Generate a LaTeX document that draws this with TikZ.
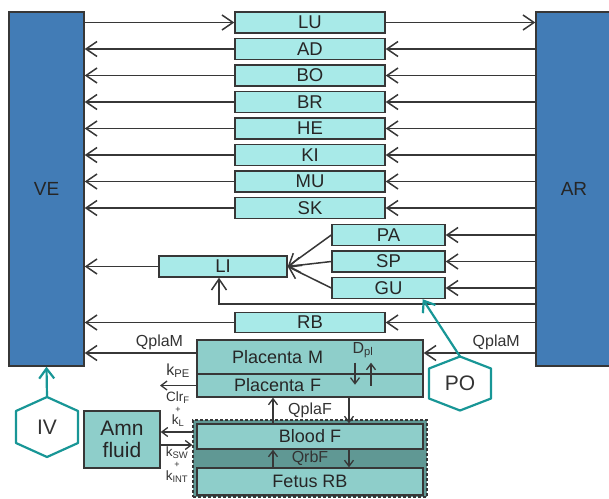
\documentclass[tikz,border=0pt]{standalone}
\usepackage{fontspec}
\setmainfont{Liberation Sans}
\definecolor{pkblue}{RGB}{66,124,182}
\definecolor{pkcyan}{RGB}{168,234,232}
\definecolor{pkteal}{RGB}{142,206,202}
\definecolor{pkdark}{RGB}{96,152,148}
\definecolor{pkhex}{RGB}{24,150,150}
\definecolor{pkline}{RGB}{55,55,55}
\usetikzlibrary{arrows.meta,positioning}

\begin{document}
\begin{tikzpicture}[x=1pt,y=-1pt,
    comp/.style={draw=pkline,line width=1.4pt,inner sep=0pt,text=black!85},
    pool/.style={comp,fill=pkblue,minimum width=75pt,minimum height=354pt,
        font=\fontsize{19}{21}\selectfont},
    organ/.style={comp,fill=pkcyan,minimum width=150pt,minimum height=21pt,
        font=\fontsize{18.5}{20}\selectfont},
    tissue/.style={comp,fill=pkteal,minimum width=226pt,
        font=\fontsize{18}{20}\selectfont},
    flow/.style={draw=pkline,line width=1.5pt,
        -{Straight Barb[length=11pt,width=15pt,line width=1.5pt]}},
    tiny/.style={draw=pkline,line width=1.3pt,
        -{Straight Barb[length=6pt,width=9pt,line width=1.3pt]}},
    dose/.style={draw=pkhex,line width=2.2pt,
        -{Straight Barb[length=10pt,width=15pt,line width=2.2pt]}},
    hexa/.style={draw=pkhex,line width=2.2pt,line join=round},
    lbl/.style={inner sep=1pt,text=black!80,font=\fontsize{16}{18}\selectfont},
    klbl/.style={inner sep=0pt,text=black!80,font=\fontsize{13.5}{15}\selectfont}]

    \useasboundingbox (0,0) rectangle (609,498);

    % Compartimentos venoso e arterial
    \node[pool] (ve) at (46.5,189) {VE};
    \node[pool,minimum width=76pt] (ar) at (574,189) {AR};

    % Orgaos em paralelo
    \foreach \nm/\lb/\yy in {lu/LU/22.5, ad/AD/49, bo/BO/75.5, br/BR/102,
                             he/HE/128.5, ki/KI/155, mu/MU/181.5, sk/SK/208}
        \node[organ] (\nm) at (310,\yy) {\lb};
    \foreach \nm/\lb/\yy in {pa/PA/235, sp/SP/261.5, gu/GU/288}
        \node[organ,minimum width=113pt] (\nm) at (388.5,\yy) {\lb};
    \node[organ,minimum width=128pt] (li) at (223,266.5) {LI};
    \node[organ,minimum height=20pt] (rb) at (310,322.5) {RB};

    % Placenta e feto
    \node[tissue,minimum height=34pt,text width=156pt,align=left] (plm) at (310,357) {Placenta M};
    \node[tissue,minimum height=23pt,text width=152pt,align=left] (plf) at (310,385.5) {Placenta F};
    \node[draw=pkline,densely dashed,line width=1.4pt,fill=pkdark,
        minimum width=234pt,minimum height=77pt] (fet) at (310,458.5) {};
    \node[tissue,minimum height=25pt] (bf) at (310,436.5) {Blood F};
    \node[tissue,minimum height=27pt] (frb) at (310,481.5) {Fetus RB};
    \node[tissue,minimum width=76pt,minimum height=57pt,align=center,
        font=\fontsize{21}{22}\selectfont] (amn) at (122,439.5) {Amn\\fluid};

    % Pulmao
    \draw[flow] (ve.east |- lu.west) -- (lu.west);
    \draw[flow] (lu.east) -- (ar.west |- lu.east);

    % Retorno venoso
    \foreach \nm in {ad,bo,br,he,ki,mu,sk,rb}{
        \draw[flow] (ar.west |- \nm.east) -- (\nm.east);
        \draw[flow] (\nm.west) -- (ve.east |- \nm.west);
    }

    % Circulacao portal
    \foreach \nm in {pa,sp,gu}{
        \draw[flow] (ar.west |- \nm.east) -- (\nm.east);
        \draw[flow] (\nm.west) -- (li.east);
    }
    \coordinate (hep) at (300,304);
    \draw[flow] (ar.west |- hep) -| ([xshift=-4pt]li.south);
    \draw[flow] (li.west) -- (ve.east |- li.west);

    % Fluxo placentario materno
    \coordinate (qm) at (300,353);
    \draw[flow] (ar.west |- qm) -- (plm.east |- qm)
        node[lbl,pos=0.35,above=1pt] {QplaM};
    \draw[flow] (plm.west |- qm) -- (ve.east |- qm)
        node[lbl,pos=0.33,above=1pt] {QplaM};

    % Trocas placenta / feto
    \coordinate (kpe) at (160,385.5);
    \draw[tiny] (plf.west) -- (kpe)
        node[lbl,midway,above=6pt] {k\textsubscript{PE}};
    \draw[tiny] ([xshift=45pt,yshift=12pt]plm.south) -- ([xshift=45pt,yshift=-10pt]plm.south);
    \draw[tiny] ([xshift=61pt,yshift=-11pt]plm.south) -- ([xshift=61pt,yshift=12pt]plm.south);
    \node[lbl] (dpl) at (363,350) {D\textsubscript{pl}};

    \draw[tiny] ([xshift=-37pt]bf.north) -- ([xshift=-37pt]plf.south);
    \draw[tiny] ([xshift=39pt]plf.south) -- ([xshift=39pt]bf.north);
    \node[lbl] (qplaf) at (310,410) {QplaF};
    \draw[tiny] ([xshift=-37pt]frb.north) -- ([xshift=-37pt]bf.south);
    \draw[tiny] ([xshift=39pt]bf.south) -- ([xshift=39pt]frb.north);
    \node[lbl] (qrbf) at (310,458) {QrbF};

    % Liquido amniotico
    \coordinate (ain) at (177,432);
    \coordinate (aout) at (177,445);
    \draw[tiny] (fet.west |- ain) -- (amn.east |- ain);
    \draw[tiny] (amn.east |- aout) -- (fet.west |- aout);
    \node[klbl] (clr) at (178,398) {Clr\textsubscript{F}};
    \node[klbl,font=\fontsize{9}{10}\selectfont] (pl1) at (178,410) {+};
    \node[klbl] (kl) at (178,421) {k\textsubscript{L}};
    \node[klbl] (ksw) at (177,453) {k\textsubscript{SW}};
    \node[klbl,font=\fontsize{9}{10}\selectfont] (pl2) at (177,465) {+};
    \node[klbl] (kint) at (177,476.5) {k\textsubscript{INT}};

    % Vias de administracao
    \node[lbl,font=\fontsize{21}{22}\selectfont] (iv) at (47,427) {IV};
    \draw[hexa] (iv.center) ++(0,-30) coordinate (ivtop) -- ++(31,14) -- ++(0,32)
        -- ++(-31,14) -- ++(-31,-14) -- ++(0,-32) -- cycle;
    \draw[dose] (ivtop) -- (ve.south);
    \node[lbl,font=\fontsize{21}{22}\selectfont] (po) at (460,383.5) {PO};
    \draw[hexa] (po.center) ++(0,-27) coordinate (potop) -- ++(31,12) -- ++(0,30)
        -- ++(-31,12) -- ++(-31,-12) -- ++(0,-30) -- cycle;
    \draw[dose] (potop) -- ([xshift=-23pt]gu.south east);

\end{tikzpicture}
\end{document}
